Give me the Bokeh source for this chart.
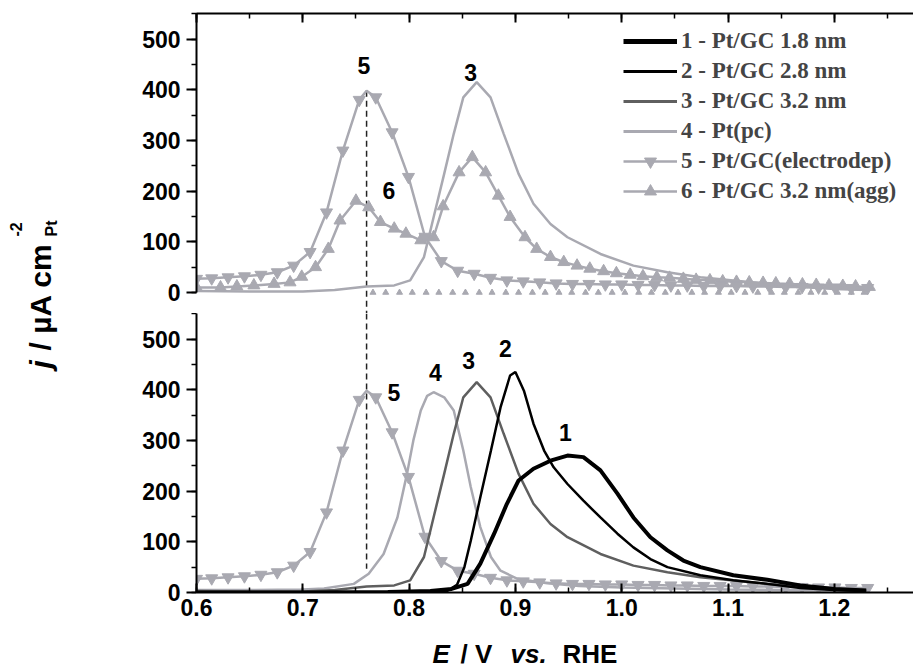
import math
from bokeh.plotting import figure
from bokeh.layouts import row, column
from bokeh.models import (Range1d, SingleIntervalTicker, Legend, LegendItem, Label,
                          ColumnDataSource, CDSView, BooleanFilter, PrintfTickFormatter,
                          CustomJSTickFormatter)
from bokeh.core.properties import value
from bokeh.embed import file_html
from bokeh.resources import INLINE

# ---------------- data ----------------
# 1 - Pt/GC 1.8 nm
E1 = [0.60, 0.70, 0.78, 0.82, 0.84, 0.855, 0.867, 0.880, 0.892, 0.903, 0.917, 0.933, 0.949,
      0.964, 0.980, 0.996, 1.011, 1.027, 1.043, 1.058, 1.074, 1.105, 1.137, 1.168, 1.200, 1.230]
J1 = [0, 0, 1, 3, 7, 17, 57, 116, 175, 221, 244, 260, 270,
      267, 241, 195, 148, 109, 83, 63, 50, 34, 25, 14, 7, 4]
# 2 - Pt/GC 2.8 nm
E2 = [0.60, 0.70, 0.80, 0.835, 0.845, 0.852, 0.858, 0.867, 0.877, 0.886, 0.895, 0.900, 0.908,
      0.917, 0.927, 0.936, 0.949, 0.964, 0.980, 0.996, 1.011, 1.027, 1.043, 1.074, 1.105,
      1.137, 1.168, 1.200, 1.230]
J2 = [0, 0, 1, 2, 15, 50, 102, 188, 280, 365, 428, 435, 398,
      333, 280, 247, 214, 181, 148, 116, 89, 66, 50, 34, 24,
      17, 9, 5, 3]
# 3 - Pt/GC 3.2 nm
E3 = [0.60, 0.65, 0.70, 0.73, 0.76, 0.786, 0.801, 0.814, 0.823, 0.833, 0.842, 0.851, 0.8636,
      0.8766, 0.889, 0.903, 0.917, 0.933, 0.949, 0.980, 1.011, 1.043, 1.074, 1.137, 1.200, 1.230]
J3 = [3, 2, 2, 5, 12, 14, 24, 70, 148, 234, 313, 385, 415,
      385, 313, 234, 175, 135, 109, 76, 53, 40, 30, 17, 7, 5]
# 4 - Pt(pc)
E4 = [0.60, 0.65, 0.70, 0.72, 0.748, 0.762, 0.776, 0.789, 0.798, 0.804, 0.811, 0.817, 0.823,
      0.833, 0.842, 0.851, 0.858, 0.867, 0.877, 0.886, 0.902, 0.930, 0.960, 1.000, 1.050,
      1.100, 1.150, 1.200, 1.230]
J4 = [5, 5, 6, 8, 17, 37, 76, 148, 234, 300, 359, 388, 395,
      385, 359, 280, 208, 129, 70, 43, 27, 18, 13, 10, 8,
      6, 5, 4, 4]
# 5 - Pt/GC(electrodep)
E5 = [0.600, 0.6143, 0.6297, 0.6451, 0.6606, 0.676, 0.6914, 0.7069, 0.7223, 0.7377, 0.7531,
      0.760, 0.7686, 0.784, 0.7994, 0.8149, 0.8303, 0.8457, 0.8612, 0.8766, 0.892, 0.9074,
      0.9229, 0.9383, 0.9537, 0.9692, 0.9846, 1.000, 1.0154, 1.0309, 1.0463, 1.0617, 1.0772,
      1.0926, 1.108, 1.1234, 1.1389, 1.1543, 1.1697, 1.1852, 1.2006, 1.216, 1.2314]
J5 = [27, 28, 30, 32, 35, 40, 53, 80, 158, 280, 380,
      398, 385, 316, 228, 110, 62, 43, 37, 29, 24, 22,
      20, 18, 17, 17, 16, 16, 15, 15, 14, 14, 13,
      13, 13, 12, 12, 11, 11, 10, 10, 9, 9]
M5 = [True] * 11 + [False] + [True] * 31
# 6 - Pt/GC 3.2 nm(agg)
E6 = [0.600, 0.6226, 0.638, 0.654, 0.673, 0.688, 0.699, 0.712, 0.724, 0.735, 0.750, 0.762,
      0.773, 0.786, 0.797, 0.811, 0.823, 0.832, 0.847, 0.8595, 0.872, 0.884, 0.895, 0.909,
      0.920, 0.933, 0.9455, 0.958, 0.970, 0.983, 0.995, 1.008, 1.020, 1.033, 1.045, 1.058,
      1.070, 1.083, 1.095, 1.108, 1.120, 1.133, 1.145, 1.158, 1.170, 1.183, 1.195, 1.208,
      1.220, 1.233]
J6 = [10, 10, 12, 14, 17, 20, 31, 50, 86, 142, 181, 168,
      139, 126, 116, 103, 109, 170, 237, 267, 237, 191, 149, 109,
      86, 70, 60, 53, 47, 42, 38, 35, 32, 30, 29, 27,
      25, 24, 22, 21, 20, 19, 18, 17, 16, 15, 14, 13,
      12, 11]
# small markers lying on the zero line of the upper panel
EB = [0.766, 0.778, 0.791, 0.803, 0.816, 0.828, 0.841, 0.853, 0.866, 0.878, 0.891, 0.903,
      0.916, 0.928, 0.941, 0.953, 0.966, 0.978, 0.991, 1.003, 1.016, 1.028, 1.041, 1.053,
      1.066, 1.078, 1.091, 1.103, 1.116, 1.128, 1.141, 1.153, 1.166, 1.178, 1.191, 1.203,
      1.216, 1.228]
JB = [0] * len(EB)

legend_labels = ["1 - Pt/GC 1.8 nm", "2 - Pt/GC 2.8 nm", "3 - Pt/GC 3.2 nm", "4 - Pt(pc)",
                 "5 - Pt/GC(electrodep)", "6 - Pt/GC 3.2 nm(agg)"]

top_lbl = ["5", "3", "6"]
top_lbl_E = [0.7575, 0.858, 0.781]
top_lbl_j = [448, 434, 201]
bot_lbl = ["5", "4", "3", "2", "1"]
bot_lbl_E = [0.7856, 0.8248, 0.856, 0.8907, 0.947]
bot_lbl_j = [395, 434, 458, 481, 316]

dash_E = 0.76
dash_top_j = 398
dash_bot_j = 47

# ---------------- style ----------------
GRAY = "#a9a9b1"
DARK = "#5f5f5f"
FONT = "Liberation Sans"
TICK_FS = "23px"

X0, X1 = 0.6, 1.2745
LEFT = 92
W_MAIN = 809
W_LAB = 104
H_TOP, H_BOT, H_XT = 313, 313, 44


def style_left(ax, bounds=None):
    ax.ticker = SingleIntervalTicker(interval=100, num_minor_ticks=2)
    ax.axis_line_width = 2
    ax.major_tick_line_width = 2
    ax.minor_tick_line_width = 1.5
    ax.major_tick_out = 10
    ax.major_tick_in = 0
    ax.minor_tick_out = 5
    ax.minor_tick_in = 0
    ax.major_label_text_font = FONT
    ax.major_label_text_font_style = "bold"
    ax.major_label_text_font_size = TICK_FS
    ax.major_label_text_color = "black"
    ax.major_label_standoff = 6
    if bounds is not None:
        ax.bounds = bounds


def style_x(ax):
    ax.ticker = SingleIntervalTicker(interval=0.1, num_minor_ticks=2)
    ax.axis_line_width = 2
    ax.major_tick_line_width = 2
    ax.minor_tick_line_width = 1.5
    ax.major_tick_out = 0
    ax.major_tick_in = 9
    ax.minor_tick_out = 0
    ax.minor_tick_in = 5


# ---------------- top panel ----------------
top = figure(width=W_MAIN, height=H_TOP, x_range=Range1d(X0, X1), y_range=Range1d(-41.4, 550.3),
             x_axis_location="above", output_backend="svg", toolbar_location=None,
             min_border_left=LEFT, min_border_right=0, min_border_top=13, min_border_bottom=0)
top.grid.visible = False
top.outline_line_color = None
style_left(top.yaxis[0], bounds=(0, 550.3))
style_x(top.xaxis[0])
top.xaxis[0].formatter = CustomJSTickFormatter(code="return ''")
top.xaxis[0].major_label_text_font_size = "1px"
top.xaxis[0].major_label_standoff = 0

top.segment(x0=[dash_E], y0=[dash_top_j], x1=[dash_E], y1=[top.y_range.start],
            line_color="#222222", line_width=1.5, line_dash="6 4")

top.scatter(EB, JB, marker="triangle", size=6, color=GRAY)
r3t = top.line(E3, J3, line_color=GRAY, line_width=2.5)
r6l = top.line(E6, J6, line_color=GRAY, line_width=2.5)
r6m = top.scatter(E6, J6, marker="triangle", size=12, color=GRAY)
src5t = ColumnDataSource(dict(x=E5, y=J5))
r5l = top.line("x", "y", source=src5t, line_color=GRAY, line_width=2.5)
r5m = top.scatter("x", "y", source=src5t, view=CDSView(filter=BooleanFilter(M5)),
                  marker="inverted_triangle", size=12, color=GRAY)

# series of the lower panel, kept hidden here, only to give the legend its samples
g1 = top.line(E1, J1, line_color="black", line_width=5, visible=False)
g2 = top.line(E2, J2, line_color="black", line_width=3, visible=False)
g3 = top.line(E3, J3, line_color=DARK, line_width=3, visible=False)
g4 = top.line(E4, J4, line_color=GRAY, line_width=3, visible=False)

top.text(x=top_lbl_E, y=top_lbl_j, text=top_lbl, text_font=value(FONT), text_font_style="bold",
         text_font_size="23px", text_align="center", text_baseline="middle", text_color="black")

legend = Legend(items=[LegendItem(label=legend_labels[0], renderers=[g1]),
                       LegendItem(label=legend_labels[1], renderers=[g2]),
                       LegendItem(label=legend_labels[2], renderers=[g3]),
                       LegendItem(label=legend_labels[3], renderers=[g4]),
                       LegendItem(label=legend_labels[4], renderers=[r5l, r5m]),
                       LegendItem(label=legend_labels[5], renderers=[r6l, r6m])],
                location=(427, 107), border_line_color=None, background_fill_alpha=0,
                label_text_font="Liberation Serif", label_text_font_style="bold",
                label_text_font_size="23px", glyph_width=54, glyph_height=30,
                label_height=30, spacing=0, padding=0, margin=0, label_standoff=4,
                inactive_fill_alpha=0, click_policy="none")
top.add_layout(legend)

# ---------------- bottom panel ----------------
bot = figure(width=W_MAIN, height=H_BOT, x_range=top.x_range, y_range=Range1d(0, 550.3),
             output_backend="svg", toolbar_location=None,
             min_border_left=LEFT, min_border_right=0, min_border_top=0,
             min_border_bottom=H_BOT - 279)
bot.grid.visible = False
bot.outline_line_color = None
style_left(bot.yaxis[0])
style_x(bot.xaxis[0])
bx = bot.xaxis[0]
bx.formatter = PrintfTickFormatter(format="%.1f")
bx.major_label_text_font = FONT
bx.major_label_text_font_style = "bold"
bx.major_label_text_font_size = TICK_FS
bx.major_label_text_color = "black"
bx.major_label_standoff = 6

bot.segment(x0=[dash_E], y0=[bot.y_range.end], x1=[dash_E], y1=[dash_bot_j],
            line_color="#222222", line_width=1.5, line_dash="6 4")

src5b = ColumnDataSource(dict(x=E5, y=J5))
bot.line("x", "y", source=src5b, line_color=GRAY, line_width=2.5)
bot.scatter("x", "y", source=src5b, view=CDSView(filter=BooleanFilter(M5)),
            marker="inverted_triangle", size=12, color=GRAY)
bot.line(E4, J4, line_color=GRAY, line_width=2.5)
bot.line(E3, J3, line_color=DARK, line_width=2.5)
bot.line(E2, J2, line_color="black", line_width=2.5)
bot.line(E1, J1, line_color="black", line_width=4)

bot.text(x=bot_lbl_E, y=bot_lbl_j, text=bot_lbl, text_font=value(FONT), text_font_style="bold",
         text_font_size="23px", text_align="center", text_baseline="middle", text_color="black")

# ---------------- x-axis title strip (E / V vs. RHE) ----------------
xt = figure(width=W_MAIN, height=H_XT, x_range=top.x_range, y_range=Range1d(0, H_XT),
            x_axis_location=None, y_axis_location=None, output_backend="svg",
            toolbar_location=None, min_border_left=LEFT, min_border_right=0,
            min_border_top=0, min_border_bottom=0)
xt.grid.visible = False
xt.outline_line_color = None
for txt, xx, style in [("E", 0.822, "bold italic"), ("/ V", 0.8484, "bold"),
                       ("vs.", 0.8954, "bold italic"), ("RHE", 0.9443, "bold")]:
    xt.add_layout(Label(x=xx, y=H_XT - 12, text=txt, text_font=FONT, text_font_style=style,
                        text_font_size="26px", text_color="black",
                        text_align="left", text_baseline="top"))

# ---------------- y-axis title column ----------------
H_ALL = H_TOP + H_BOT + H_XT
lab = figure(width=W_LAB, height=H_ALL, x_range=Range1d(0, W_LAB), y_range=Range1d(0, H_ALL),
             x_axis_location=None, y_axis_location=None, output_backend="svg",
             toolbar_location=None, min_border=0)
lab.grid.visible = False
lab.outline_line_color = None
ang = math.pi / 2
for txt, xx, yy, style, fs in [("j", 40, H_ALL - 368, "bold italic", "30px"),
                               ("/ \u00b5A cm", 40, H_ALL - 350, "bold", "30px"),
                               ("-2", 15, H_ALL - 236, "bold", "16px"),
                               ("Pt", 51, H_ALL - 236, "bold", "16px")]:
    lab.add_layout(Label(x=xx, y=yy, text=txt, angle=ang, text_font=FONT,
                         text_font_style=style, text_font_size=fs, text_color="black",
                         text_align="left", text_baseline="alphabetic"))

layout = row(lab, column(top, bot, xt))
open("out.html", "w").write(file_html(layout, INLINE))
